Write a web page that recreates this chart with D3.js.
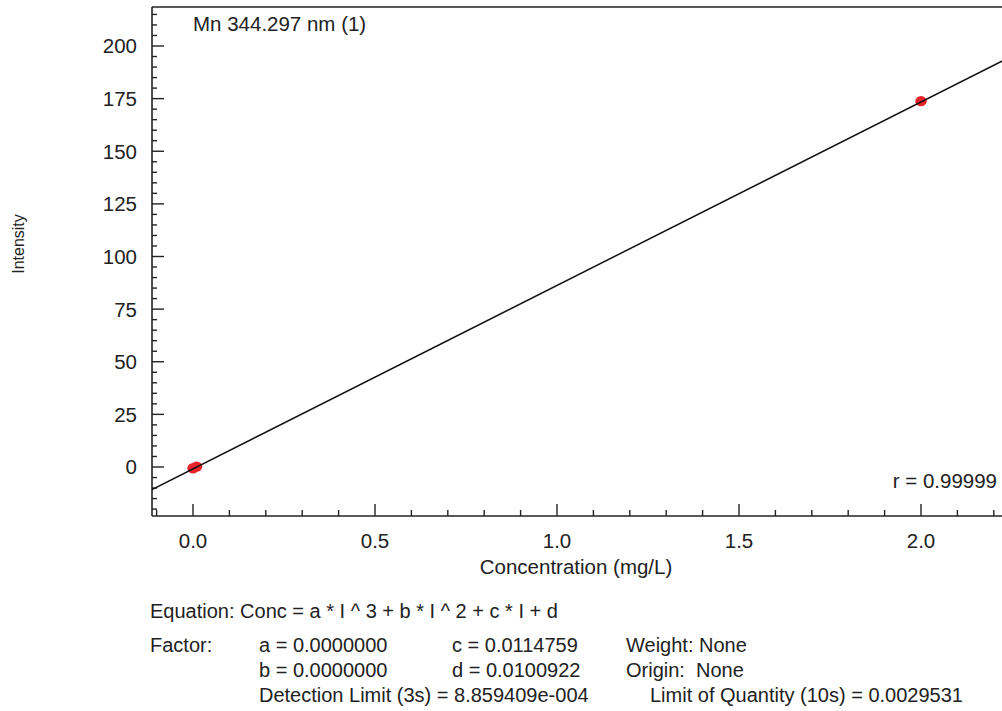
<!DOCTYPE html>
<html>
<head>
<meta charset="utf-8">
<script src="https://cdn.jsdelivr.net/npm/d3@7"></script>
<style>
html,body{margin:0;padding:0;background:#fff;}
svg{display:block;}
text{font-family:"Liberation Sans",Arial,sans-serif;fill:#222;}
</style>
</head>
<body>
<svg id="chart" width="1002" height="711"></svg>
<script>
// ---- data ----
const title = "Mn 344.297 nm (1)";
const concentrations = [0.0, 0.01, 2.0];
const intensities = [-0.6, 0.2, 173.8];
const coefA = 0.0, coefB = 0.0, coefC = 0.0114759, coefD = 0.0100922;
const xTicks = [0.0, 0.5, 1.0, 1.5, 2.0];
const yTicks = [0, 25, 50, 75, 100, 125, 150, 175, 200];
const rValue = "r = 0.99999";
const infoLines = [
  {text:"Equation: Conc = a * I ^ 3 + b * I ^ 2 + c * I + d", col:0, row:0},
  {text:"Factor:", col:0, row:1},
  {text:"a = 0.0000000", col:1, row:1},
  {text:"c = 0.0114759", col:2, row:1},
  {text:"Weight: None", col:3, row:1},
  {text:"b = 0.0000000", col:1, row:2},
  {text:"d = 0.0100922", col:2, row:2},
  {text:"Origin:  None", col:3, row:2},
  {text:"Detection Limit (3s) = 8.859409e-004", col:1, row:3},
  {text:"Limit of Quantity (10s) = 0.0029531", col:4, row:3}
];

// ---- layout ----
const svg = d3.select("#chart");
const pL = 152, pT = 7, pB = 516, pR = 1010;
const x = d3.scaleLinear().domain([0, 2]).range([193, 921]);
const y = d3.scaleLinear().domain([0, 200]).range([467, 46]);
const xDom = [x.invert(pL), x.invert(pR)];
const yDom = [y.invert(pB), y.invert(pT)];

const axisColor = "#222";
const fs = 20.5;

svg.append("line").attr("x1",pL).attr("x2",pL).attr("y1",pT).attr("y2",pB)
  .attr("stroke",axisColor).attr("stroke-width",1.6);
svg.append("line").attr("x1",pL).attr("x2",pR).attr("y1",pT).attr("y2",pT)
  .attr("stroke",axisColor).attr("stroke-width",1.6);
svg.append("line").attr("x1",pL).attr("x2",pR).attr("y1",pB).attr("y2",pB)
  .attr("stroke",axisColor).attr("stroke-width",1.6);

// y ticks (inward)
const yMinor = d3.range(Math.ceil(yDom[0]/5)*5, yDom[1], 5);
svg.selectAll(".ytick").data(yMinor).enter().append("line")
  .attr("x1",pL).attr("x2",d => pL + (d % 25 === 0 ? 12 : 5))
  .attr("y1",d=>y(d)).attr("y2",d=>y(d))
  .attr("stroke",axisColor).attr("stroke-width",1.4);
svg.selectAll(".ylab").data(yTicks).enter().append("text")
  .attr("x",137).attr("y",d=>y(d)).attr("dy","0.36em")
  .attr("text-anchor","end").attr("font-size",fs).text(d=>d);

// x ticks (inward)
const xMinor = d3.range(Math.ceil(xDom[0]*10), Math.floor(xDom[1]*10)+1).map(v=>v/10);
svg.selectAll(".xtick").data(xMinor).enter().append("line")
  .attr("x1",d=>x(d)).attr("x2",d=>x(d))
  .attr("y1",pB).attr("y2",d => pB - (Math.round(d*10) % 5 === 0 ? 12 : 6))
  .attr("stroke",axisColor).attr("stroke-width",1.4);
svg.selectAll(".xlab").data(xTicks).enter().append("text")
  .attr("x",d=>x(d)).attr("y",548)
  .attr("text-anchor","middle").attr("font-size",fs).text(d=>d.toFixed(1));

// axis titles
svg.append("text").attr("x",576).attr("y",574).attr("text-anchor","middle")
  .attr("font-size",fs).text("Concentration (mg/L)");
svg.append("text").attr("transform","translate(24,244) rotate(-90)")
  .attr("text-anchor","middle").attr("font-size",16).text("Intensity");

// title and r
svg.append("text").attr("x",193).attr("y",31).attr("font-size",fs).text(title);
svg.append("text").attr("x",997).attr("y",488).attr("text-anchor","end")
  .attr("font-size",fs).text(rValue);

svg.append("clipPath").attr("id","clip").append("rect")
  .attr("x",pL).attr("y",pT).attr("width",pR-pL).attr("height",pB-pT);

// fit line: Conc = c*I + d  ->  I = (Conc - d)/c
const fitI = conc => (conc - coefD) / coefC;
const lineData = [xDom[0], xDom[1]];
const lineGen = d3.line().x(d=>x(d)).y(d=>y(fitI(d)));

// points
const pts = concentrations.map((c,i)=>({c, v:intensities[i]}));
svg.selectAll(".pt").data(pts).enter().append("ellipse")
  .attr("cx",d=>x(d.c)).attr("cy",d=>y(d.v)).attr("rx",5.7).attr("ry",5.2)
  .attr("fill","#e8232a");
svg.append("path").attr("clip-path","url(#clip)")
  .datum(lineData).attr("d", lineGen)
  .attr("stroke","#111").attr("stroke-width",1.5).attr("fill","none");

// info block
const colX = [150, 259, 452, 626, 650];
const rowY = [618, 652, 677, 702];
svg.selectAll(".info").data(infoLines).enter().append("text")
  .attr("x",d=>colX[d.col]).attr("y",d=>rowY[d.row])
  .attr("font-size",20).attr("xml:space","preserve").style("white-space","pre")
  .text(d=>d.text);
</script>
</body>
</html>
